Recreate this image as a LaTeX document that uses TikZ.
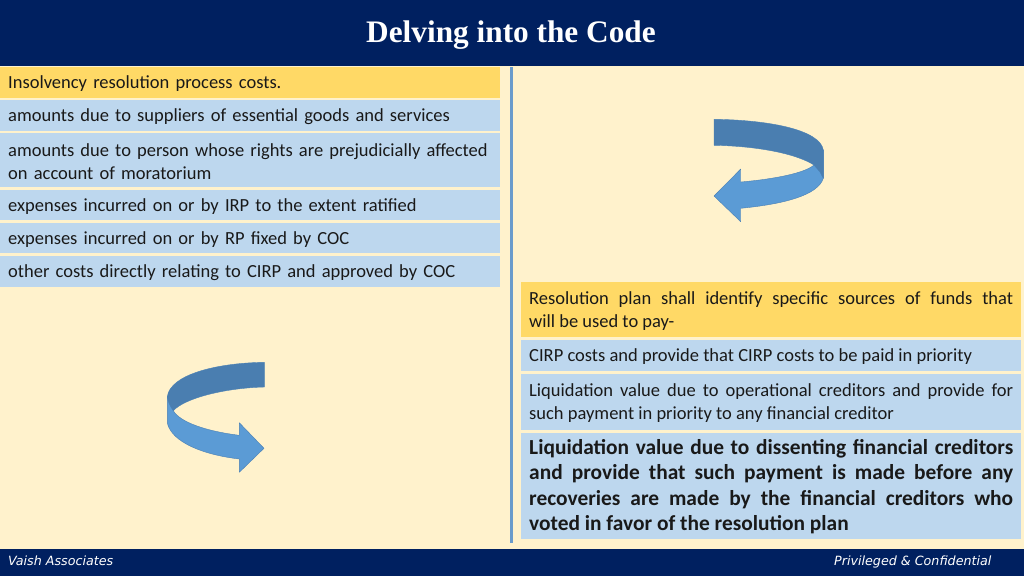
\documentclass[tikz,border=0pt]{standalone}
\usepackage{fontspec}
\setmainfont{Carlito}
\newfontfamily\titlefont{Liberation Serif}
\newfontfamily\footfont{DejaVu Sans}
\usepackage{tikz}
\definecolor{navy}{HTML}{002060}
\definecolor{cream}{HTML}{FFF2CC}
\definecolor{headbox}{HTML}{FFD966}
\definecolor{itembox}{HTML}{BDD7EE}
\definecolor{divider}{HTML}{6A9BCB}
\definecolor{bandlight}{HTML}{5B9BD5}
\definecolor{banddark}{HTML}{4A7EB0}
\definecolor{bandline}{HTML}{4A80B4}
\tikzset{
	leftbox/.style={anchor=north west,inner xsep=8pt,inner ysep=0pt,text width=484pt,align=left,font=\fontsize{18.5}{23}\selectfont,text=black!90,execute at begin node={\rule{0pt}{15.5pt}}},
	rightbox/.style={leftbox,align=justify},
	foot/.style={text=white,font=\footfont\itshape\fontsize{12.7}{15}\selectfont},
	bandfront/.style={fill=bandlight,draw=bandline,line width=0.4pt,line join=round},
	bandback/.style={fill=banddark,draw=bandline,line width=0.4pt,line join=round}
}
\begin{document}
\begin{tikzpicture}[x=1pt,y=-1pt]
		\useasboundingbox (0,0) rectangle (1024,576);
		\fill[cream] (0,0) rectangle (1024,576);
		\fill[navy] (0,0) rectangle (1024,66);
		\fill[navy] (0,549) rectangle (1024,576);
		\fill[divider] (510,67) rectangle (513,543);
		\node[text=white,font=\titlefont\bfseries\fontsize{31.3}{34}\selectfont] (Title) at (511,35) {Delving into the Code};
		%left column
		\node[leftbox,fill=headbox,minimum height=31pt] (CostsHead) at (0,67) {Insolvency resolution process costs.};
		\node[leftbox,fill=itembox,minimum height=31pt] (Suppliers) at (0,100) {amounts due to suppliers of essential goods and services};
		\node[leftbox,fill=itembox,minimum height=54pt] (Moratorium) at (0,133) {amounts due to person whose rights are prejudicially affected\\on account of moratorium};
		\node[leftbox,fill=itembox,minimum height=30pt] (Irp) at (0,190) {expenses incurred on or by IRP to the extent ratified};
		\node[leftbox,fill=itembox,minimum height=30pt] (Rp) at (0,223) {expenses incurred on or by RP fixed by COC};
		\node[leftbox,fill=itembox,minimum height=31pt] (Other) at (0,256) {other costs directly relating to CIRP and approved by COC};
		%right column
		\node[rightbox,fill=headbox,minimum height=55pt] (PlanHead) at (521,282) {Resolution plan shall identify specific sources of funds that\linebreak will be used to pay-};
		\node[rightbox,fill=itembox,minimum height=31pt] (Cirp) at (521,340) {CIRP costs and provide that CIRP costs to be paid in priority};
		\node[rightbox,fill=itembox,minimum height=56pt] (Operational) at (521,374) {Liquidation value due to operational creditors and provide for\linebreak such payment in priority to any financial creditor};
		\node[rightbox,fill=itembox,minimum height=106pt,font=\bfseries\fontsize{21.4}{25.5}\selectfont,execute at begin node={}] (Dissenting) at (521,433) {Liquidation value due to dissenting financial creditors\linebreak and provide that such payment is made before any\linebreak recoveries are made by the financial creditors who\linebreak voted in favor of the resolution plan};
		%footer
		\node[foot,anchor=base west] (FootLeft) at (4.5,565) {Vaish Associates};
		\node[foot,anchor=base east] (FootRight) at (995,565) {Privileged \& Confidential};
		%left curved arrow
		\draw[bandfront] (167.3,396) -- (167.3,423) .. controls (172,443) and (205,455) .. (239.3,459) -- (239.3,472.3) -- (264,448.3) -- (239.3,422.7) -- (239.3,435.3) .. controls (205,431) and (180,422) .. (173.3,410.7) -- cycle;
		\draw[bandback] (264.3,362.3) .. controls (215,363) and (170,375) .. (167.3,396.7) .. controls (168,402) and (170,406) .. (173.3,410.7) .. controls (185,398) and (225,388) .. (264.3,387) -- cycle;
		%right curved arrow
		\draw[bandfront] (823.3,150) -- (823.3,178.3) .. controls (818,195) and (785,204) .. (740.7,208.3) -- (740.7,221.7) -- (714,196) -- (740.7,169) -- (740.7,182) .. controls (775,179) and (805,173) .. (814,165) -- cycle;
		\draw[bandback] (714,119.3) .. controls (770,120) and (820,130) .. (823.3,150) -- (823.3,178.3) -- (820,172) -- (814,165) .. controls (795,153) and (755,146) .. (714,145.3) -- cycle;
	\end{tikzpicture}
\end{document}
